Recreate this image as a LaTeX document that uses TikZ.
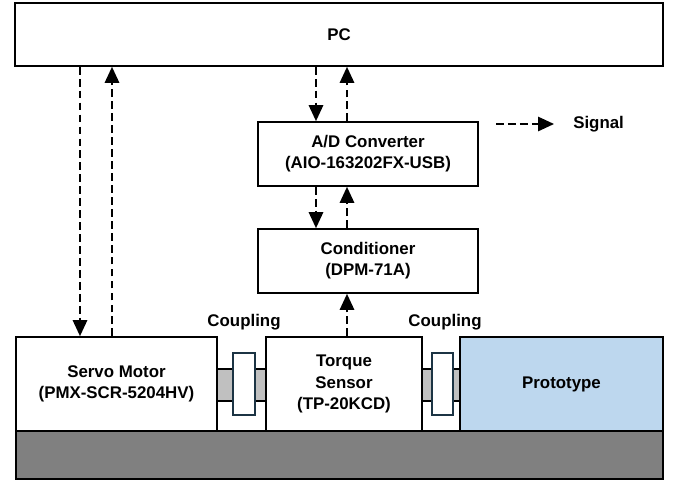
\documentclass[tikz,border=0pt]{standalone}
\usepackage{fontspec}
\setmainfont{Liberation Sans}
\usetikzlibrary{arrows.meta,positioning}
\definecolor{pblue}{HTML}{BDD7EE}
\definecolor{pgray}{HTML}{808080}
\definecolor{plight}{HTML}{C0C0C0}
\definecolor{pnavy}{HTML}{1C3444}

\begin{document}
\begin{tikzpicture}[
 box/.style={draw, line width=1.2pt, fill=white, align=center, inner sep=0pt, font=\fontsize{12}{15}\selectfont\bfseries},
 sig/.style={-{Triangle[length=4mm,width=3.6mm]}, line width=1.2pt, dash pattern=on 5.5pt off 3pt},
 lbl/.style={font=\fontsize{12}{15}\selectfont\bfseries, inner sep=0pt}
 ]
 \useasboundingbox (0,0) rectangle (17,12.025);
 % base plate and shafts
 \draw[fill=pgray, line width=1.2pt] (0.4,0.05) rectangle (16.575,1.25);
 \draw[fill=plight, line width=1pt] (5.425,2.0) rectangle (6.65,2.8);
 \draw[fill=plight, line width=1pt] (10.55,2.0) rectangle (11.5,2.8);
 % blocks
 \node[box, minimum width=16.2cm, minimum height=1.575cm] (pc) at (8.475,11.1625) {PC};
 \node[box, minimum width=5.5cm, minimum height=1.6cm] (adc) at (9.2,8.175) {A/D Converter\\(AIO-163202FX-USB)};
 \node[box, minimum width=5.5cm, minimum height=1.6cm] (cond) at (9.2,5.5) {Conditioner\\(DPM-71A)};
 \node[box, minimum width=5.025cm, minimum height=2.35cm] (motor) at (2.9125,2.425) {Servo Motor\\(PMX-SCR-5204HV)};
 \node[box, minimum width=3.9cm, minimum height=2.35cm] (sensor) at (8.6,2.425) {Torque\\Sensor\\(TP-20KCD)};
 \node[box, fill=pblue, minimum width=5.075cm, minimum height=2.35cm] (proto) at (14.0375,2.425) {Prototype};
 % couplings
 \node[draw=pnavy, line width=1.2pt, fill=white, minimum width=0.55cm, minimum height=1.55cm, inner sep=0pt] (cpl1) at (6.1,2.425) {};
 \node[draw=pnavy, line width=1.2pt, fill=white, minimum width=0.525cm, minimum height=1.55cm, inner sep=0pt] (cpl2) at (11.0625,2.425) {};
 \node[lbl] (cpl1txt) at (6.1,3.975) {Coupling};
 \node[lbl] (cpl2txt) at (11.125,3.975) {Coupling};
 % signal lines
 \coordinate (mdown) at (2.0,0);
 \coordinate (mup) at (2.8,0);
 \coordinate (sdown) at (7.9,0);
 \coordinate (sup) at (8.675,0);
 \draw[sig] (pc.south -| mdown) -- (motor.north -| mdown);
 \draw[sig] (motor.north -| mup) -- (pc.south -| mup);
 \draw[sig] (pc.south -| sdown) -- (adc.north -| sdown);
 \draw[sig] (adc.north -| sup) -- (pc.south -| sup);
 \draw[sig] (adc.south -| sdown) -- (cond.north -| sdown);
 \draw[sig] (cond.north -| sup) -- (adc.south -| sup);
 \draw[sig] (sensor.north -| sup) -- (cond.south -| sup);
 % legend
 \coordinate (leg) at (12.4,8.925);
 \coordinate (legend) at (13.85,8.925);
 \draw[sig] (leg) -- (legend);
 \node[lbl, anchor=west] (legtxt) at (14.325,8.925) {Signal};
\end{tikzpicture}
\end{document}
